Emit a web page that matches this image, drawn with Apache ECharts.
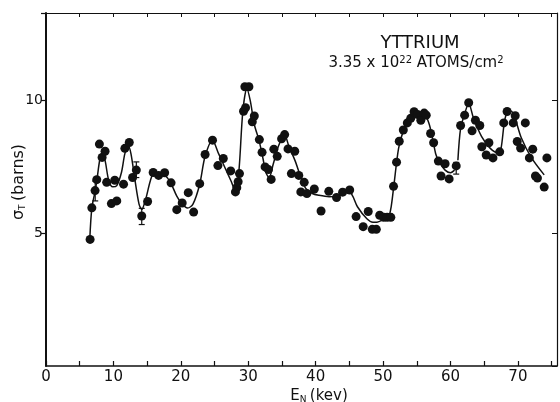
<!DOCTYPE html>
<html>
<head>
<meta charset="utf-8">
<script src="https://cdn.jsdelivr.net/npm/echarts@6/dist/echarts.min.js"></script>
<style>
  html, body { margin: 0; padding: 0; background: #fff; }
  #chart { width: 560px; height: 402px; }
</style>
</head>
<body>
<div id="chart"></div>
<script>
// measured points (keV, barns)
var pointX = [6.54, 6.8, 7.28, 7.53, 7.92, 8.32, 8.76, 9.0, 9.7, 10.2, 10.5, 11.5, 11.7, 12.35, 12.85, 13.4, 14.2, 15.07, 15.9, 16.7, 17.6, 18.55, 19.4,
  20.2, 21.1, 21.9, 22.8, 23.6, 24.7, 25.5, 26.3, 27.4, 28.1, 28.3, 28.5, 28.7, 29.3, 29.6, 29.5, 30.1, 30.6, 30.9, 31.65, 32.05, 32.5, 33.0, 33.4,
  33.8, 34.3, 34.95, 35.4, 35.9, 36.4, 36.9, 37.5, 37.8, 38.3, 38.7,
  39.8, 40.8, 41.95, 43.1, 44.0, 45.05, 46.0, 47.05, 47.8, 48.4, 49.0, 49.5, 50.1, 50.6, 51.15, 51.55, 52.0, 52.4, 53.0, 53.6, 54.1, 54.6,
  55.1, 55.6, 56.1, 56.4, 57.05, 57.5, 58.2, 58.6, 59.2, 59.8, 60.85, 61.5, 62.1, 62.7, 63.2, 63.7, 64.35, 64.65, 65.3, 65.7, 66.3, 67.3,
  67.9, 68.4, 69.3, 69.6, 69.9, 70.4, 71.1, 71.7, 72.2, 72.6, 72.9, 73.9, 74.3];
var pointY = [4.77, 5.96, 6.61, 7.02, 8.36, 7.86, 8.09, 6.92, 6.12, 7.0, 6.22, 6.85, 8.2, 8.42, 7.1, 7.38, 5.65, 6.2, 7.29, 7.18, 7.28, 6.9, 5.89,
  6.14, 6.53, 5.8, 6.87, 7.97, 8.51, 7.55, 7.82, 7.35, 6.56, 6.72, 6.94, 7.25, 9.6, 9.73, 10.52, 10.52, 9.2, 9.42, 8.53, 8.05, 7.5, 7.4, 7.03,
  8.17, 7.9, 8.56, 8.72, 8.18, 7.25, 8.09, 7.18, 6.56, 6.92, 6.5,
  6.67, 5.84, 6.58, 6.35, 6.55, 6.63, 5.63, 5.25, 5.82, 5.15, 5.15, 5.68, 5.6, 5.6, 5.6, 6.77, 7.68, 8.47, 8.89, 9.16, 9.33, 9.58,
  9.48, 9.26, 9.53, 9.45, 8.76, 8.41, 7.72, 7.16, 7.62, 7.05, 7.54, 9.06, 9.45, 9.92, 8.86, 9.26, 9.06, 8.26, 7.95, 8.41, 7.84, 8.07,
  9.16, 9.59, 9.16, 9.43, 8.46, 8.21, 9.16, 7.84, 8.17, 7.16, 7.08, 6.74, 7.84];

// fitted curve (null = break in the drawn line)
var curveX = [6.5, 6.8, 7.3, 7.6, 8.0, 8.4, 8.8, 9.3, 9.9, 10.5, 11.2, 11.7, 12.2, 12.6, 13.2, 13.8, 14.2, 14.8, 15.5, 16.0, 16.8, 17.6, 18.5, 19.4,
  20.2, 21.0, 21.8, 22.8, 23.6, 24.7, 25.6, 26.5, 27.4, 28.1, 28.6, 29.2, 29.8, 30.3, 30.9, 31.6, 32.2, 32.6, 33.1, 33.7, 34.5, 35.4, 36.0,
  37.0, 37.8, 38.5, 39.5, 40.5, 42.0, 43.0, 44.9, 45.5, 46.2, 47.6, 48.5, 49.1, 50.1, 50.8, 51.2, 51.6, 52.3, 53.0, 53.8, 54.8, 56.0,
  56.8, 57.4, 57.8, 58.3, 59.2, 60.0, 60.6, 60.85, 61.1, 61.5, 62.1, 62.7, 63.4, 64.6, 65.9, 67.1, 67.5, 68.0, 68.4, 69.0, 69.5, 70.5, 72.0, 73.9];
var curveY = [4.8, 5.95, 6.6, 7.1, 7.8, 8.05, 7.7, 7.0, 6.75, 6.8, 7.3, 8.0, 8.3, 8.0, 7.0, 6.1, 5.9, 6.3, 7.0, 7.25, 7.25, 7.2, 6.9, 6.4,
  6.1, 5.95, 6.1, 6.85, 7.9, 8.5, 8.0, 7.5, 7.0, 6.6, 7.3, 9.6, 10.45, 10.0, 9.1, 8.5, 7.8, 7.3, 7.1, 7.6, 8.3, 8.7, 8.3,
  7.7, 7.1, 6.7, 6.5, 6.43, 6.38, 6.4, 6.6, 6.4, 6.0, 5.55, 5.42, 5.42, 5.52, 5.6, 6.0, 6.8, 8.2, 8.85, 9.2, 9.5, 9.5,
  9.15, 8.5, 8.0, 7.7, 7.38, 7.28, 7.38, null, 7.75, 8.95, 9.5, 9.9, 9.35, 8.65, 8.2, 8.03, 8.2, 9.2, 9.55, 9.6, 9.4, 8.6, 7.85, 7.2];

// error bars
var errX = [7.3, 13.4, 14.2, 60.85];
var errLow = [6.22, 7.1, 5.33, 7.23];
var errHigh = [6.97, 7.69, 5.94, 7.67];

var xTicks = [0, 10, 20, 30, 40, 50, 60, 70];
var yTicks = [5, 10];

var chart = echarts.init(document.getElementById('chart'));
var font = 'DejaVu Sans';
var ink = '#111';

var points = pointX.map(function (x, i) { return [x, pointY[i]]; });
var curve = curveX.map(function (x, i) { return [x, curveY[i] == null ? '-' : curveY[i]]; });
var errs = errX.map(function (x, i) { return [x, errLow[i], errHigh[i]]; });

chart.setOption({
    animation: false,
    backgroundColor: '#fff',
    grid: { left: 46, right: 3, top: 13, bottom: 36, outerBoundsMode: 'none', containLabel: false },
    xAxis: [
        {
            type: 'value', min: 0, max: 75.8, interval: 5,
            axisLine: { onZero: false, lineStyle: { color: ink, width: 1.5 } },
            axisTick: { inside: true, length: 5, lineStyle: { color: ink, width: 1.2 } },
            splitLine: { show: false },
            axisLabel: {
                color: ink, fontFamily: font, fontSize: 15, margin: 4,
                showMaxLabel: false,
                formatter: function (v) { return xTicks.indexOf(v) >= 0 ? String(v) : ''; }
            }
        },
        {
            type: 'value', position: 'top', min: 0, max: 75.8, interval: 5,
            axisLine: { show: true, onZero: false, lineStyle: { color: ink, width: 1.2 } },
            axisTick: { inside: true, length: 4, lineStyle: { color: ink } },
            axisLabel: { show: false }, splitLine: { show: false }
        }
    ],
    yAxis: [
        {
            type: 'value', min: 0, max: 13.3, interval: 5,
            axisLine: { show: true, onZero: false, lineStyle: { color: ink, width: 2 } },
            axisTick: { length: 5, lineStyle: { color: ink, width: 1.2 } },
            splitLine: { show: false },
            axisLabel: {
                color: ink, fontFamily: font, fontSize: 14, margin: 3,
                showMinLabel: false,
                formatter: function (v) { return yTicks.indexOf(v) >= 0 ? String(v) : ''; }
            }
        },
        {
            type: 'value', position: 'right', min: 0, max: 13.3, interval: 5,
            axisLine: { show: true, onZero: false, lineStyle: { color: ink, width: 1.2 } },
            axisTick: { inside: true, length: 5, lineStyle: { color: ink } },
            axisLabel: { show: false }, splitLine: { show: false }
        }
    ],
    graphic: [
        {
            type: 'text', x: 420, y: 34,
            style: { text: 'YTTRIUM', fontFamily: font, fontSize: 18, fill: ink, align: 'center' }
        },
        {
            type: 'text', x: 416, y: 55,
            style: {
                align: 'center',
                text: '{t|3.35 x 10}{sup|22}{t| ATOMS/cm}{sup|2}',
                rich: {
                    t: { fontFamily: font, fontSize: 15, fill: ink },
                    sup: { fontFamily: font, fontSize: 10, fill: ink, verticalAlign: 'top', padding: [0, 0, 6, 0] }
                }
            }
        },
        {
            // y-axis title
            type: 'text', x: 19, y: 182, rotation: Math.PI / 2,
            style: {
                align: 'center', verticalAlign: 'middle',
                text: '{e|σ}{sub|T} {e|(barns)}',
                rich: {
                    e: { fontFamily: font, fontSize: 16, fill: ink },
                    sub: { fontFamily: font, fontSize: 9, fill: ink, verticalAlign: 'bottom', padding: [8, 0, 0, 0] }
                }
            }
        },
        {
            // x-axis title
            type: 'text', x: 319, y: 396,
            style: {
                align: 'center', verticalAlign: 'middle',
                text: '{e|E}{sub|N} {e|(kev)}',
                rich: {
                    e: { fontFamily: font, fontSize: 15, fill: ink },
                    sub: { fontFamily: font, fontSize: 9, fill: ink, verticalAlign: 'bottom', padding: [8, 0, 0, 0] }
                }
            }
        }
    ],
    series: [
        {
            type: 'line', data: curve, smooth: 0.3, showSymbol: false, connectNulls: false,
            lineStyle: { color: ink, width: 1.5 }, z: 2
        },
        {
            type: 'scatter', data: points, symbolSize: 9,
            itemStyle: { color: ink, opacity: 1 }, z: 3
        },
        {
            type: 'custom', data: errs, z: 4,
            renderItem: function (params, api) {
                var lo = api.coord([api.value(0), api.value(1)]);
                var hi = api.coord([api.value(0), api.value(2)]);
                var w = 3;
                var st = { stroke: ink, lineWidth: 1.2 };
                return {
                    type: 'group',
                    children: [
                        { type: 'line', shape: { x1: lo[0], y1: lo[1], x2: hi[0], y2: hi[1] }, style: st },
                        { type: 'line', shape: { x1: lo[0] - w, y1: lo[1], x2: lo[0] + w, y2: lo[1] }, style: st },
                        { type: 'line', shape: { x1: hi[0] - w, y1: hi[1], x2: hi[0] + w, y2: hi[1] }, style: st }
                    ]
                };
            }
        }
    ]
});
</script>
</body>
</html>
